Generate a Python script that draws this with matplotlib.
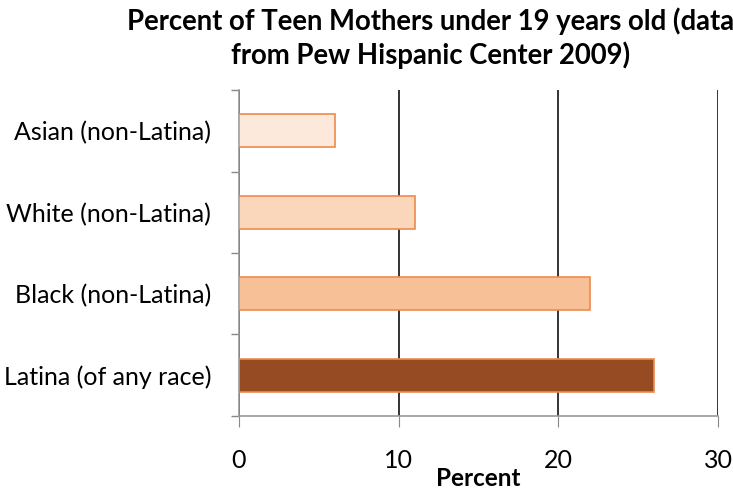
import matplotlib.pyplot as plt
import numpy as np

# data
groups = ["Asian (non-Latina)", "White (non-Latina)", "Black (non-Latina)", "Latina (of any race)"]
percent = [6, 11, 22, 26]
colors = ["#FCE9DC", "#FAD6BA", "#F8C096", "#964B22"]

plt.rcParams['font.family'] = ['Lato', 'DejaVu Sans']

fig = plt.figure(figsize=(7.33, 4.92), dpi=100)
ax = fig.add_axes([0.326, 0.1545, 0.6535, 0.6625])

y = np.arange(len(groups))
ax.barh(y, percent, height=0.4, color=colors, edgecolor="#EE8A4E", linewidth=1.2, zorder=3)

ax.set_xlim(0, 30)
ax.set_ylim(3.5, -0.5)
ax.set_xticks([0, 10, 20, 30])
ax.set_xticklabels(["0", "10", "20", "30"], fontsize=18)
ax.set_yticks(y)
ax.set_yticklabels(groups, fontsize=18)
ax.tick_params(axis='y', length=0, pad=20)
ax.set_yticks(np.arange(-0.5, 4, 1), minor=True)
ax.tick_params(axis='y', which='minor', length=6, color="#888888", width=1)
ax.tick_params(axis='x', length=8, direction='out', color="#888888", pad=16)

ax.xaxis.grid(True, color="#333333", linewidth=1.4, zorder=0)
ax.set_axisbelow(True)

for s in ["top", "right"]:
    ax.spines[s].set_visible(False)
ax.spines["left"].set_color("#999999")
ax.spines["bottom"].set_color("#999999")
ax.spines["left"].set_linewidth(1.2)
ax.spines["bottom"].set_linewidth(1.2)

ax.set_xlabel("Percent", fontsize=17.5, fontweight="bold", labelpad=-4)
fig.text(0.587, 0.985, "Percent of Teen Mothers under 19 years old (data\nfrom Pew Hispanic Center 2009)",
         ha="center", va="top", fontsize=19.8, fontweight="bold", linespacing=1.3)

fig.savefig("out.png", dpi=100)
